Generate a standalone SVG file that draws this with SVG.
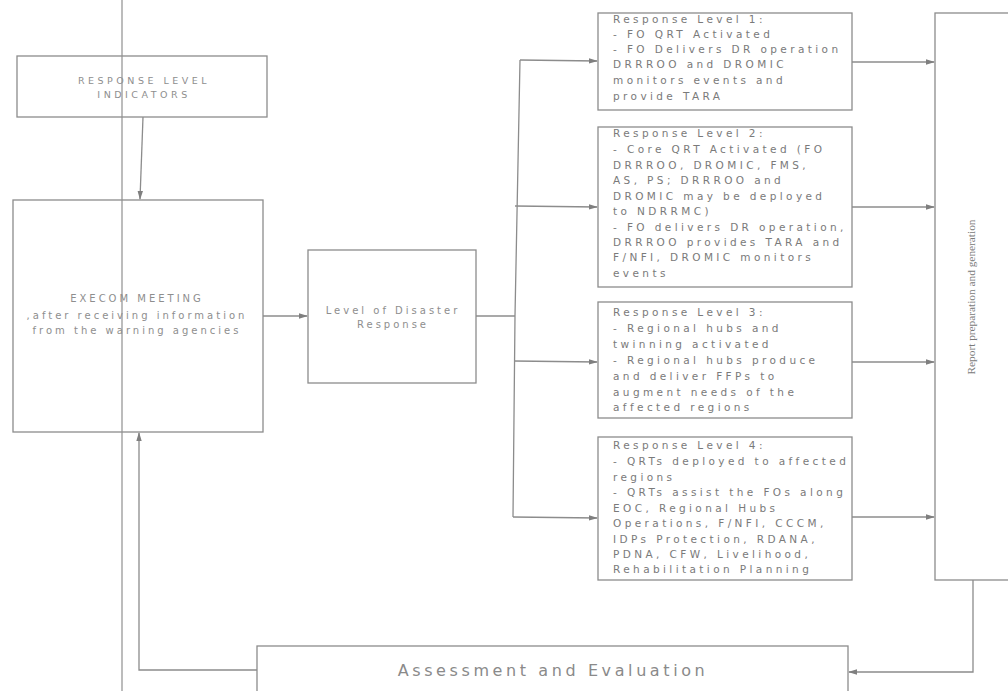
<svg xmlns="http://www.w3.org/2000/svg" width="1008" height="691" viewBox="0 0 1008 691">
  <style>
    .box { fill: #ffffff; stroke: #8c8c8c; stroke-width: 1.3; }
    .wire { fill: none; stroke: #8c8c8c; stroke-width: 1.3; }
    .lbl { font-family: "DejaVu Sans", sans-serif; fill: #8e8e8e; }
    .c { text-anchor: middle; }
    .caps { font-size: 9.5px; letter-spacing: 3.5px; }
    .small { font-size: 10px; letter-spacing: 3px; }
    .body { font-size: 10.5px; letter-spacing: 3.4px; fill: #7a7a7a; }
    .big { font-size: 16px; letter-spacing: 3.6px; fill: #8a8a8a; }
    .rot { font-family: "Liberation Serif", serif; font-size: 11px; fill: #7a7a7a; }
  </style>
  <defs>
    <marker id="arr" markerWidth="9" markerHeight="7" refX="8" refY="3.5" orient="auto" markerUnits="userSpaceOnUse">
      <path d="M0,0.8 L9,3.5 L0,6.2 Z" fill="#7f7f7f"/>
    </marker>
  </defs>
  <rect width="1008" height="691" fill="#ffffff"/>

  <g id="connectors">
    <line class="wire" x1="143" y1="117" x2="140" y2="199" marker-end="url(#arr)"/>
    <line class="wire" x1="263" y1="316" x2="307" y2="316" marker-end="url(#arr)"/>
    <line class="wire" x1="476" y1="316" x2="515" y2="316"/>
    <path class="wire" d="M520,60 L515,316 L513,517"/>
    <line class="wire" x1="520" y1="60" x2="597" y2="61" marker-end="url(#arr)"/>
    <line class="wire" x1="515" y1="206" x2="597" y2="207" marker-end="url(#arr)"/>
    <line class="wire" x1="514" y1="361" x2="597" y2="362" marker-end="url(#arr)"/>
    <line class="wire" x1="513" y1="517" x2="597" y2="518" marker-end="url(#arr)"/>
    <line class="wire" x1="852" y1="62" x2="934" y2="62" marker-end="url(#arr)"/>
    <line class="wire" x1="852" y1="207" x2="934" y2="207" marker-end="url(#arr)"/>
    <line class="wire" x1="852" y1="362" x2="934" y2="362" marker-end="url(#arr)"/>
    <line class="wire" x1="852" y1="517" x2="934" y2="517" marker-end="url(#arr)"/>
    <path class="wire" d="M973,580 L973,672 L849,672" marker-end="url(#arr)"/>
    <path class="wire" d="M257,670 L139,670 L139,433" marker-end="url(#arr)"/>
  </g>

  <g id="indicators">
    <rect class="box" x="17" y="56" width="250" height="61"/>
    <text class="lbl caps c" x="144" y="84">RESPONSE LEVEL</text>
    <text class="lbl caps c" x="144" y="98">INDICATORS</text>
  </g>

  <g id="execom">
    <rect class="box" x="13" y="200" width="250" height="232"/>
    <text class="lbl small c" x="137" y="302">EXECOM MEETING</text>
    <text class="lbl small c" x="137" y="319">,after receiving information</text>
    <text class="lbl small c" x="137" y="334">from the warning agencies</text>
  </g>

  <g id="level">
    <rect class="box" x="308" y="250" width="168" height="133"/>
    <text class="lbl small c" x="393" y="314">Level of Disaster</text>
    <text class="lbl small c" x="393" y="328">Response</text>
  </g>

  <g id="level1">
    <rect class="box" x="598" y="13" width="254" height="97"/>
    <text class="lbl body">
      <tspan x="613" y="23">Response Level 1:</tspan>
      <tspan x="613" y="38">- FO QRT Activated</tspan>
      <tspan x="613" y="53">- FO Delivers DR operation</tspan>
      <tspan x="613" y="68">DRRROO and DROMIC</tspan>
      <tspan x="613" y="84">monitors events and</tspan>
      <tspan x="613" y="100">provide TARA</tspan>
    </text>
  </g>

  <g id="level2">
    <rect class="box" x="598" y="127" width="254" height="160"/>
    <text class="lbl body">
      <tspan x="613" y="137">Response Level 2:</tspan>
      <tspan x="613" y="153">- Core QRT Activated (FO</tspan>
      <tspan x="613" y="169">DRRROO, DROMIC, FMS,</tspan>
      <tspan x="613" y="184">AS, PS; DRRROO and</tspan>
      <tspan x="613" y="200">DROMIC may be deployed</tspan>
      <tspan x="613" y="215">to NDRRMC)</tspan>
      <tspan x="613" y="231">- FO delivers DR operation,</tspan>
      <tspan x="613" y="246">DRRROO provides TARA and</tspan>
      <tspan x="613" y="261">F/NFI, DROMIC monitors</tspan>
      <tspan x="613" y="277">events</tspan>
    </text>
  </g>

  <g id="level3">
    <rect class="box" x="598" y="302" width="254" height="116"/>
    <text class="lbl body">
      <tspan x="613" y="316">Response Level 3:</tspan>
      <tspan x="613" y="332">- Regional hubs and</tspan>
      <tspan x="613" y="348">twinning activated</tspan>
      <tspan x="613" y="364">- Regional hubs produce</tspan>
      <tspan x="613" y="380">and deliver FFPs to</tspan>
      <tspan x="613" y="396">augment needs of the</tspan>
      <tspan x="613" y="411">affected regions</tspan>
    </text>
  </g>

  <g id="level4">
    <rect class="box" x="598" y="437" width="254" height="143"/>
    <text class="lbl body">
      <tspan x="613" y="449">Response Level 4:</tspan>
      <tspan x="613" y="465">- QRTs deployed to affected</tspan>
      <tspan x="613" y="481">regions</tspan>
      <tspan x="613" y="496">- QRTs assist the FOs along</tspan>
      <tspan x="613" y="512">EOC, Regional Hubs</tspan>
      <tspan x="613" y="527">Operations, F/NFI, CCCM,</tspan>
      <tspan x="613" y="543">IDPs Protection, RDANA,</tspan>
      <tspan x="613" y="558">PDNA, CFW, Livelihood,</tspan>
      <tspan x="613" y="573">Rehabilitation Planning</tspan>
    </text>
  </g>

  <g id="report">
    <rect class="box" x="935" y="13" width="100" height="567"/>
    <text class="rot c" transform="translate(975,297) rotate(-90)" textLength="155" lengthAdjust="spacingAndGlyphs">Report preparation and generation</text>
  </g>

  <g id="assessment">
    <rect class="box" x="257" y="646" width="591" height="60"/>
    <text class="lbl big c" x="553" y="676">Assessment and Evaluation</text>
  </g>

  <!-- long vertical rule on the left, drawn over the boxes -->
  <line x1="122" y1="0" x2="122" y2="691" stroke="#8f8f8f" stroke-width="1.2"/>
</svg>
